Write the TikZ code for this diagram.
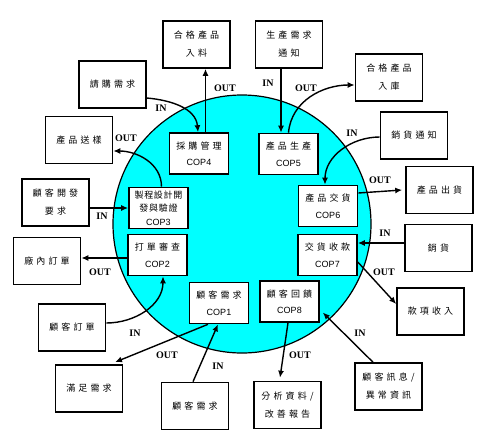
\documentclass[tikz,border=0pt]{standalone}
\usepackage{fontspec}
\usepackage{tikz}
\usetikzlibrary{arrows.meta, positioning, calc}
\newfontfamily\cjk[LetterSpace=35]{Noto Sans CJK TC}
\newfontfamily\cjktight[LetterSpace=8]{Noto Sans CJK TC}
\newfontfamily\iofont{Liberation Serif}
\newfontfamily\copfont{Liberation Sans}
\definecolor{poolcyan}{HTML}{00FFFF}

\begin{document}
\begin{tikzpicture}[
  x=1pt, y=-1pt,
  outbox/.style={draw, line width=1.6pt, fill=white, minimum width=67pt, minimum height=47pt, align=center, inner sep=1pt, font=\cjk\fontsize{9}{18}\selectfont},
  copbox/.style={outbox, minimum width=59pt, minimum height=41pt, font=\cjk\fontsize{9}{16.5}\selectfont},
  io/.style={font=\iofont\bfseries\fontsize{10}{10}\selectfont, inner sep=0pt},
  arr/.style={-{Latex[length=7pt,width=6pt]}, line width=1.4pt},
]
  \useasboundingbox (0,0) rectangle (485,437);
  \draw[fill=poolcyan, line width=1.2pt] (242,224) circle [radius=129pt];

  \node[copbox] (cop1) at (219,303) {顧客需求\\{\copfont COP1}};
  \node[copbox] (cop2) at (157.5,255) {打單審查\\{\copfont COP2}};
  \node[copbox, font=\cjktight\fontsize{9}{13.5}\selectfont] (cop3) at (158.5,208) {製程設計開\\發與驗證\\{\copfont COP3}};
  \node[copbox] (cop4) at (199,153.5) {採購管理\\{\copfont COP4}};
  \node[copbox] (cop5) at (288.5,154) {產品生產\\{\copfont COP5}};
  \node[copbox] (cop6) at (328,206) {產品交貨\\{\copfont COP6}};
  \node[copbox] (cop7) at (327.5,255) {交貨收款\\{\copfont COP7}};
  \node[copbox] (cop8) at (289.5,301.5) {顧客回饋\\{\copfont COP8}};

  \node[outbox] (matin) at (196.5,44.5) {合格產品\\入料};
  \node[outbox] (purreq) at (112.5,84.5) {請購需求};
  \node[outbox] (sample) at (79,140) {產品送樣};
  \node[outbox] (devreq) at (55.5,202.5) {顧客開發\\要求};
  \node[outbox] (inorder) at (47,261) {廠內訂單};
  \node[outbox] (custorder) at (72,327.5) {顧客訂單};
  \node[outbox] (satisfy) at (89,388.5) {滿足需求};
  \node[outbox] (custneed) at (195,406) {顧客需求};
  \node[outbox] (prodreq) at (289,44.5) {生產需求\\通知};
  \node[outbox] (stock) at (389,77.5) {合格產品\\入庫};
  \node[outbox] (salenote) at (414,135.5) {銷貨通知};
  \node[outbox] (ship) at (439.5,190) {產品出貨};
  \node[outbox] (sales) at (438.5,248) {銷貨};
  \node[outbox] (income) at (430.5,311.5) {款項收入};
  \node[outbox] (report) at (287.5,405) {分析資料/\\改善報告};
  \node[outbox] (custinfo) at (388.5,386.5) {顧客訊息/\\異常資訊};

  \draw[arr] ([yshift=-13.5pt]purreq.east) to[out=-5,in=95] ([xshift=-1pt]cop4.north);
  \draw[arr] ([xshift=6.5pt]cop4.north) -- ([xshift=9pt]matin.south);
  \draw[arr] ([xshift=3pt]cop3.north) to[out=90,in=0] ([yshift=-11pt]sample.east);
  \draw[arr] (devreq.east |- cop3.west) -- (cop3.west);
  \draw[arr] ([yshift=-3pt]cop2.west) -- ([yshift=3pt]inorder.east);
  \draw[arr] ([yshift=4.5pt]custorder.east) to[out=0,in=-90] ([xshift=5.5pt]cop2.south);
  \draw[arr] ([xshift=-11pt]cop1.south) -- ([xshift=26pt,yshift=2pt]satisfy.north);
  \draw[arr] ([xshift=-2pt]custneed.north) -- ([xshift=-1pt]cop1.south);
  \draw[arr] ([xshift=-8pt]prodreq.south) -- ([xshift=-7.5pt]cop5.north);
  \draw[arr] (cop5.north) to[out=85,in=180] ([yshift=-7.5pt]stock.west);
  \draw[arr] ([yshift=-1.5pt]salenote.west) to[out=180,in=90] ([xshift=-3pt]cop6.north);
  \draw[arr] ([yshift=13pt]cop6.east) -- ([xshift=-3pt]ship.west);
  \draw[arr] ([yshift=5pt]sales.west) -- ([yshift=12pt]cop7.east);
  \draw[arr] ([yshift=-7pt]cop7.east) -- ([yshift=7.5pt]income.west);
  \draw[arr] ([xshift=-15.5pt]custinfo.north) -- ([xshift=3pt,yshift=-11pt]cop8.east);
  \draw[arr] ([xshift=-1.5pt]cop8.south) -- ([xshift=-7.5pt,yshift=3pt]report.north);

  \node[io] (lpurreq) at (161,108) {IN};
  \node[io] (lmatin) at (225,88) {OUT};
  \node[io] (lsample) at (126,138) {OUT};
  \node[io] (ldevreq) at (102,216) {IN};
  \node[io] (linorder) at (100,272) {OUT};
  \node[io] (lcustorder) at (135,333) {IN};
  \node[io] (lsatisfy) at (167,355) {OUT};
  \node[io] (lcustneed) at (218,366) {IN};
  \node[io] (lprodreq) at (268,83) {IN};
  \node[io] (lstock) at (306,88) {OUT};
  \node[io] (lsalenote) at (352,133) {IN};
  \node[io] (lship) at (380,180) {OUT};
  \node[io] (lsales) at (385,233) {IN};
  \node[io] (lincome) at (384,272) {OUT};
  \node[io] (lcustinfo) at (360,333) {IN};
  \node[io] (lreport) at (300,355) {OUT};
\end{tikzpicture}
\end{document}
